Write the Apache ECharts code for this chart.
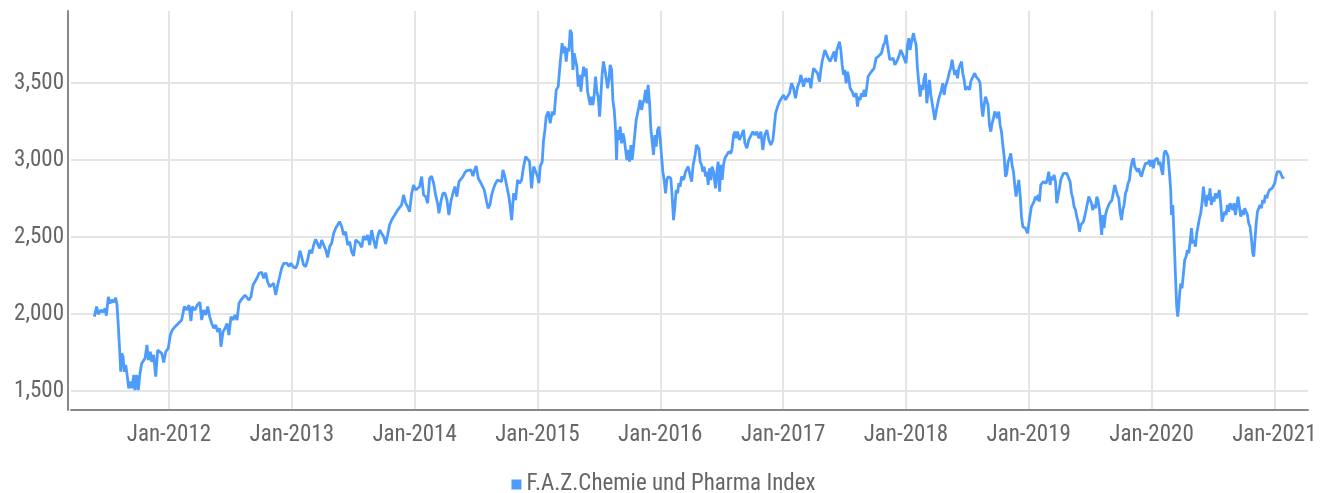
<!DOCTYPE html>
<html>
<head>
<meta charset="utf-8">
<script src="https://cdn.jsdelivr.net/npm/echarts@6/dist/echarts.min.js"></script>
<style>
html,body{margin:0;padding:0;background:#fff;}
#chart{width:1327px;height:493px;}
</style>
</head>
<body>
<div id="chart"></div>
<script>
// Data: [decimal year, index value]
const seriesName = 'F.A.Z.Chemie und Pharma Index';
const tickPrefix = 'Jan-';

const s2011 = [[2011.392,1983],[2011.411,2048],[2011.424,1998],[2011.446,2026],[2011.463,2012],[2011.479,2037],[2011.490,1989],[2011.506,2112],[2011.520,2069],[2011.534,2091],[2011.550,2076],[2011.566,2106],[2011.577,2058],[2011.587,1929],[2011.599,1755],[2011.607,1625],[2011.615,1745],[2011.626,1723],[2011.636,1625],[2011.648,1669],[2011.661,1593],[2011.672,1518],[2011.688,1561],[2011.699,1518],[2011.713,1604],[2011.723,1506],[2011.737,1604],[2011.750,1506],[2011.764,1615],[2011.778,1680],[2011.794,1669],[2011.805,1712],[2011.821,1799],[2011.832,1701],[2011.848,1755],[2011.859,1690],[2011.875,1734],[2011.892,1593],[2011.908,1766],[2011.924,1777],[2011.941,1745],[2011.957,1686],[2011.973,1755],[2011.994,1777]];

const s2012 = [[2012.011,1864],[2012.027,1896],[2012.049,1918],[2012.076,1939],[2012.103,1961],[2012.125,2048],[2012.144,2026],[2012.163,2058],[2012.179,1955],[2012.190,2048],[2012.212,2026],[2012.230,2058],[2012.252,2076],[2012.266,1961],[2012.282,2026],[2012.299,1994],[2012.315,2048],[2012.331,1983],[2012.348,1939],[2012.364,1907],[2012.380,1929],[2012.396,1885],[2012.413,1907],[2012.423,1788],[2012.440,1885],[2012.456,1907],[2012.472,1939],[2012.488,1864],[2012.505,1983],[2012.521,1961],[2012.537,1994],[2012.554,1961],[2012.570,2069],[2012.586,2091],[2012.602,2102],[2012.619,2123],[2012.635,2119],[2012.651,2091],[2012.667,2112],[2012.684,2188],[2012.700,2199],[2012.716,2232],[2012.733,2264],[2012.755,2271],[2012.771,2232],[2012.787,2268],[2012.803,2210],[2012.820,2177],[2012.836,2188],[2012.852,2199],[2012.869,2123],[2012.885,2188],[2012.901,2242],[2012.917,2297],[2012.934,2329],[2012.961,2329],[2012.977,2308],[2012.993,2329]];

const s2013 = [[2013.012,2307],[2013.031,2297],[2013.048,2329],[2013.066,2411],[2013.080,2372],[2013.096,2318],[2013.113,2307],[2013.129,2351],[2013.145,2416],[2013.162,2394],[2013.178,2448],[2013.194,2485],[2013.210,2491],[2013.227,2426],[2013.243,2480],[2013.259,2470],[2013.276,2416],[2013.292,2368],[2013.308,2437],[2013.324,2459],[2013.341,2524],[2013.357,2557],[2013.373,2578],[2013.389,2600],[2013.406,2568],[2013.422,2513],[2013.438,2535],[2013.455,2448],[2013.471,2470],[2013.487,2405],[2013.503,2377],[2013.520,2481],[2013.536,2491],[2013.552,2459],[2013.569,2433],[2013.585,2506],[2013.601,2481],[2013.617,2513],[2013.634,2448],[2013.650,2545],[2013.666,2481],[2013.683,2426],[2013.699,2502],[2013.715,2545],[2013.731,2535],[2013.748,2502],[2013.764,2455],[2013.780,2513],[2013.796,2578],[2013.813,2610],[2013.829,2632],[2013.845,2643],[2013.862,2675],[2013.878,2686],[2013.894,2708],[2013.910,2773],[2013.927,2719],[2013.943,2697],[2013.959,2664],[2013.976,2784],[2013.992,2838]];

const s2014 = [[2014.008,2805],[2014.024,2795],[2014.041,2827],[2014.057,2892],[2014.073,2773],[2014.090,2762],[2014.106,2719],[2014.122,2881],[2014.138,2895],[2014.155,2849],[2014.171,2773],[2014.187,2719],[2014.198,2654],[2014.214,2730],[2014.230,2784],[2014.247,2784],[2014.263,2741],[2014.279,2643],[2014.295,2730],[2014.312,2784],[2014.328,2827],[2014.344,2762],[2014.361,2859],[2014.377,2859],[2014.393,2892],[2014.409,2918],[2014.426,2931],[2014.442,2924],[2014.458,2935],[2014.475,2895],[2014.488,2935],[2014.501,2961],[2014.518,2881],[2014.534,2859],[2014.550,2849],[2014.567,2805],[2014.586,2730],[2014.599,2686],[2014.613,2708],[2014.627,2773],[2014.643,2816],[2014.659,2849],[2014.676,2870],[2014.692,2875],[2014.708,2859],[2014.719,2935],[2014.735,2892],[2014.751,2827],[2014.768,2762],[2014.778,2697],[2014.790,2610],[2014.806,2784],[2014.822,2740],[2014.838,2870],[2014.855,2849],[2014.871,2870],[2014.887,2957],[2014.904,3022],[2014.920,3033],[2014.936,2989],[2014.952,2816],[2014.969,2957],[2014.985,2945]];

const s2015 = [[2015.001,2892],[2015.012,2849],[2015.022,2957],[2015.039,2989],[2015.050,3130],[2015.061,3195],[2015.071,3281],[2015.088,3314],[2015.104,3238],[2015.120,3314],[2015.136,3292],[2015.153,3455],[2015.169,3476],[2015.185,3628],[2015.201,3758],[2015.213,3693],[2015.223,3737],[2015.234,3639],[2015.245,3726],[2015.256,3704],[2015.267,3844],[2015.278,3823],[2015.289,3584],[2015.299,3693],[2015.310,3704],[2015.321,3606],[2015.332,3476],[2015.343,3552],[2015.354,3444],[2015.364,3530],[2015.376,3606],[2015.386,3541],[2015.397,3595],[2015.408,3444],[2015.419,3433],[2015.429,3357],[2015.441,3411],[2015.451,3357],[2015.462,3422],[2015.473,3541],[2015.484,3444],[2015.494,3411],[2015.506,3281],[2015.516,3411],[2015.527,3563],[2015.538,3639],[2015.549,3650],[2015.560,3530],[2015.571,3465],[2015.582,3520],[2015.592,3617],[2015.604,3584],[2015.614,3390],[2015.625,3325],[2015.636,3195],[2015.644,3000],[2015.652,3195],[2015.663,3130],[2015.674,3216],[2015.685,3108],[2015.696,3173],[2015.706,3141],[2015.718,3065],[2015.728,3000],[2015.739,3065],[2015.750,2989],[2015.761,3097],[2015.771,3000],[2015.783,3087],[2015.793,3076],[2015.804,3260],[2015.815,3271],[2015.826,3346],[2015.836,3390],[2015.848,3325],[2015.858,3368],[2015.869,3390],[2015.880,3455],[2015.891,3368],[2015.901,3487],[2015.913,3368],[2015.923,3206],[2015.934,3195],[2015.945,3033],[2015.956,3162],[2015.967,3087],[2015.978,3195],[2015.989,3216],[2015.999,3141]];

const s2016 = [[2016.011,3022],[2016.021,2924],[2016.032,2870],[2016.043,2784],[2016.054,2870],[2016.064,2892],[2016.076,2903],[2016.086,2881],[2016.097,2762],[2016.108,2610],[2016.119,2697],[2016.129,2805],[2016.141,2784],[2016.151,2849],[2016.162,2827],[2016.173,2892],[2016.190,2870],[2016.206,2924],[2016.227,2957],[2016.241,2946],[2016.255,2859],[2016.268,2968],[2016.282,3022],[2016.295,3097],[2016.304,3108],[2016.314,3076],[2016.325,2989],[2016.336,2968],[2016.347,2924],[2016.357,2957],[2016.369,2892],[2016.379,2924],[2016.390,2838],[2016.401,2946],[2016.412,2870],[2016.422,2957],[2016.434,2924],[2016.450,2816],[2016.461,2924],[2016.471,2989],[2016.483,2794],[2016.493,2968],[2016.504,2870],[2016.515,2968],[2016.526,3011],[2016.542,3022],[2016.558,3054],[2016.575,3043],[2016.585,3076],[2016.597,3162],[2016.607,3184],[2016.618,3141],[2016.629,3184],[2016.645,3130],[2016.662,3162],[2016.678,3195],[2016.689,3108],[2016.705,3076],[2016.721,3130],[2016.737,3141],[2016.754,3184],[2016.770,3162],[2016.786,3184],[2016.803,3141],[2016.819,3184],[2016.835,3065],[2016.851,3162],[2016.868,3195],[2016.884,3130],[2016.900,3097],[2016.917,3130],[2016.927,3206],[2016.939,3303],[2016.955,3346],[2016.971,3379],[2016.987,3400]];

const s2017 = [[2017.004,3422],[2017.020,3390],[2017.036,3400],[2017.052,3433],[2017.069,3498],[2017.085,3465],[2017.101,3400],[2017.118,3476],[2017.134,3508],[2017.144,3552],[2017.155,3520],[2017.166,3476],[2017.183,3530],[2017.199,3508],[2017.215,3530],[2017.226,3465],[2017.236,3530],[2017.248,3595],[2017.264,3606],[2017.280,3563],[2017.297,3508],[2017.307,3584],[2017.318,3639],[2017.329,3650],[2017.340,3714],[2017.356,3725],[2017.367,3661],[2017.383,3639],[2017.399,3628],[2017.416,3704],[2017.427,3639],[2017.438,3714],[2017.448,3736],[2017.459,3768],[2017.470,3714],[2017.481,3617],[2017.492,3552],[2017.503,3584],[2017.513,3498],[2017.525,3573],[2017.535,3530],[2017.546,3465],[2017.562,3444],[2017.578,3411],[2017.595,3433],[2017.606,3346],[2017.617,3411],[2017.627,3390],[2017.639,3433],[2017.649,3411],[2017.660,3455],[2017.671,3411],[2017.682,3476],[2017.692,3541],[2017.709,3563],[2017.725,3563],[2017.741,3595],[2017.757,3661],[2017.774,3671],[2017.790,3661],[2017.801,3693],[2017.818,3747],[2017.828,3760],[2017.839,3812],[2017.850,3747],[2017.861,3690],[2017.869,3650],[2017.883,3639],[2017.896,3661],[2017.910,3617],[2017.926,3639],[2017.942,3671],[2017.958,3714],[2017.975,3682],[2017.991,3671]];

const s2018 = [[2018.001,3628],[2018.013,3747],[2018.024,3790],[2018.034,3714],[2018.046,3768],[2018.062,3823],[2018.072,3779],[2018.083,3747],[2018.094,3595],[2018.105,3498],[2018.116,3411],[2018.127,3487],[2018.138,3455],[2018.148,3530],[2018.160,3563],[2018.170,3368],[2018.181,3444],[2018.192,3520],[2018.203,3422],[2018.213,3411],[2018.225,3314],[2018.235,3260],[2018.246,3314],[2018.257,3357],[2018.268,3400],[2018.278,3390],[2018.290,3455],[2018.300,3498],[2018.311,3422],[2018.322,3476],[2018.333,3465],[2018.343,3530],[2018.355,3574],[2018.365,3595],[2018.376,3650],[2018.387,3595],[2018.398,3552],[2018.409,3584],[2018.420,3530],[2018.431,3595],[2018.441,3584],[2018.453,3639],[2018.463,3563],[2018.474,3520],[2018.485,3455],[2018.496,3444],[2018.506,3476],[2018.518,3455],[2018.528,3508],[2018.539,3530],[2018.550,3520],[2018.561,3563],[2018.571,3541],[2018.583,3552],[2018.593,3520],[2018.604,3498],[2018.615,3357],[2018.626,3281],[2018.637,3357],[2018.648,3411],[2018.659,3422],[2018.669,3357],[2018.680,3227],[2018.691,3184],[2018.702,3238],[2018.713,3271],[2018.724,3314],[2018.734,3303],[2018.745,3271],[2018.756,3314],[2018.767,3227],[2018.778,3184],[2018.789,3097],[2018.800,3022],[2018.811,2892],[2018.821,2911],[2018.832,2989],[2018.843,3011],[2018.854,3043],[2018.864,2968],[2018.876,2924],[2018.886,2838],[2018.897,2762],[2018.908,2816],[2018.919,2870],[2018.930,2773],[2018.941,2632],[2018.952,2567],[2018.962,2578],[2018.973,2557],[2018.990,2524]];

const s2019 = [[2019.000,2535],[2019.011,2643],[2019.022,2697],[2019.033,2708],[2019.043,2730],[2019.055,2762],[2019.066,2740],[2019.076,2773],[2019.087,2730],[2019.098,2838],[2019.109,2827],[2019.120,2859],[2019.131,2870],[2019.141,2849],[2019.153,2881],[2019.163,2924],[2019.174,2838],[2019.185,2892],[2019.196,2870],[2019.206,2903],[2019.218,2859],[2019.228,2719],[2019.239,2708],[2019.250,2816],[2019.261,2870],[2019.271,2892],[2019.283,2913],[2019.293,2924],[2019.310,2913],[2019.326,2924],[2019.337,2859],[2019.348,2784],[2019.359,2751],[2019.369,2697],[2019.381,2675],[2019.391,2632],[2019.402,2600],[2019.413,2535],[2019.424,2578],[2019.434,2589],[2019.446,2600],[2019.456,2605],[2019.467,2675],[2019.478,2719],[2019.489,2762],[2019.499,2773],[2019.511,2719],[2019.521,2675],[2019.532,2708],[2019.543,2686],[2019.554,2762],[2019.564,2740],[2019.576,2675],[2019.586,2589],[2019.594,2513],[2019.603,2643],[2019.613,2557],[2019.625,2643],[2019.635,2675],[2019.646,2675],[2019.657,2719],[2019.668,2708],[2019.678,2740],[2019.690,2794],[2019.700,2838],[2019.711,2805],[2019.722,2773],[2019.733,2751],[2019.744,2664],[2019.755,2610],[2019.766,2675],[2019.776,2708],[2019.788,2784],[2019.798,2805],[2019.809,2849],[2019.820,2870],[2019.831,2946],[2019.841,2989],[2019.853,3011],[2019.863,2957],[2019.874,2946],[2019.885,2924],[2019.896,2946],[2019.906,2913],[2019.918,2892],[2019.928,2924],[2019.939,2935],[2019.950,2978],[2019.961,2989],[2019.971,2978],[2019.983,3000],[2019.993,2957]];

const s2020 = [[2020.004,3000],[2020.015,2946],[2020.026,3000],[2020.037,2989],[2020.048,3011],[2020.059,2968],[2020.069,2989],[2020.081,2935],[2020.091,2903],[2020.102,3043],[2020.113,3060],[2020.124,3043],[2020.134,3022],[2020.146,2913],[2020.156,2805],[2020.162,2643],[2020.173,2708],[2020.181,2545],[2020.189,2372],[2020.197,2199],[2020.205,2048],[2020.213,1983],[2020.221,2048],[2020.230,2145],[2020.238,2199],[2020.248,2167],[2020.260,2264],[2020.270,2351],[2020.281,2372],[2020.292,2416],[2020.303,2394],[2020.313,2459],[2020.325,2557],[2020.335,2459],[2020.346,2481],[2020.357,2437],[2020.368,2524],[2020.378,2567],[2020.390,2621],[2020.400,2654],[2020.411,2719],[2020.422,2827],[2020.433,2751],[2020.444,2697],[2020.455,2773],[2020.466,2740],[2020.476,2816],[2020.487,2708],[2020.498,2762],[2020.509,2730],[2020.520,2784],[2020.531,2751],[2020.541,2773],[2020.553,2805],[2020.563,2719],[2020.574,2600],[2020.585,2632],[2020.596,2664],[2020.606,2643],[2020.618,2708],[2020.628,2664],[2020.639,2719],[2020.650,2697],[2020.661,2675],[2020.671,2719],[2020.683,2643],[2020.693,2697],[2020.704,2762],[2020.715,2697],[2020.726,2632],[2020.737,2675],[2020.748,2643],[2020.759,2686],[2020.769,2697],[2020.781,2643],[2020.791,2589],[2020.802,2567],[2020.813,2491],[2020.824,2394],[2020.832,2372],[2020.840,2459],[2020.851,2578],[2020.862,2664],[2020.873,2686],[2020.883,2708],[2020.894,2686],[2020.905,2740],[2020.916,2719],[2020.927,2773],[2020.938,2751],[2020.948,2784],[2020.960,2805],[2020.970,2805],[2020.981,2816],[2020.992,2827]];

const s2021 = [[2021.003,2849],[2021.013,2892],[2021.025,2924],[2021.035,2935],[2021.046,2924],[2021.057,2913],[2021.068,2881],[2021.076,2892]];

const yearRange = [2011.2022, 2021.2738];
const valueRange = [1377, 3967];

const allPoints = [].concat(s2011, s2012, s2013, s2014, s2015, s2016, s2017, s2018, s2019, s2020, s2021);

const FONT = "'Roboto Condensed', 'Liberation Sans Narrow', 'Arial Narrow', 'DejaVu Sans Condensed', sans-serif";
const LINE_COLOR = '#4d9cfd';

const chart = echarts.init(document.getElementById('chart'), null, {renderer: 'canvas'});
chart.setOption({
  animation: false,
  backgroundColor: '#ffffff',
  textStyle: {fontFamily: FONT},
  grid: {left: 71, right: 19, top: 11, bottom: 83, containLabel: false},
  legend: {
    show: true,
    top: 468,
    left: 'center',
    icon: 'rect',
    itemWidth: 10,
    itemHeight: 10,
    itemGap: 5,
    textStyle: {fontFamily: FONT, fontSize: 23, color: '#666'},
    data: [seriesName]
  },
  xAxis: {
    type: 'value',
    min: yearRange[0],
    max: yearRange[1],
    minInterval: 1,
    maxInterval: 1,
    axisLine: {show: true, lineStyle: {color: '#888', width: 2}},
    axisTick: {show: false},
    axisLabel: {
      show: true, color: '#666', fontFamily: FONT, fontSize: 23, margin: 14,
      showMinLabel: false, showMaxLabel: false,
      formatter: v => tickPrefix + Math.round(v)
    },
    splitLine: {show: true, showMinLine: false, showMaxLine: false, lineStyle: {color: '#e5e5e5', width: 2}}
  },
  yAxis: {
    type: 'value',
    min: valueRange[0],
    max: valueRange[1],
    splitNumber: 5,
    minInterval: 500,
    maxInterval: 500,
    offset: 3,
    axisLine: {show: true, lineStyle: {color: '#888', width: 2}},
    axisTick: {show: false},
    axisLabel: {
      show: true, color: '#666', fontFamily: FONT, fontSize: 23, margin: 4,
      showMinLabel: false, showMaxLabel: false,
      formatter: v => v.toLocaleString('en-US')
    },
    splitLine: {show: true, showMinLine: false, showMaxLine: false, lineStyle: {color: '#e5e5e5', width: 2}}
  },
  series: [{
    name: seriesName,
    type: 'line',
    data: allPoints,
    showSymbol: false,
    symbol: 'none',
    sampling: null,
    color: LINE_COLOR,
    lineStyle: {color: LINE_COLOR, width: 2.8},
    z: 5
  }]
});
</script>
</body>
</html>
